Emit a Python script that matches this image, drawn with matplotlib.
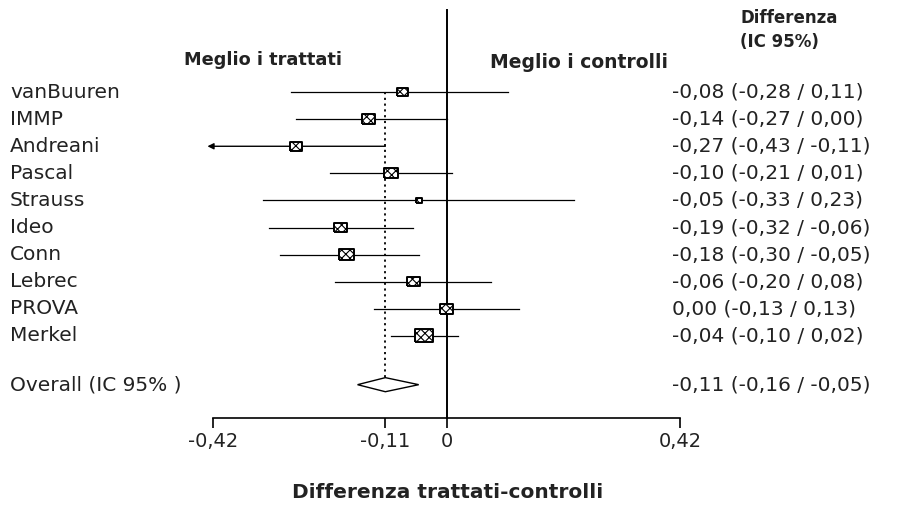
import matplotlib
matplotlib.use("Agg")
import matplotlib.pyplot as plt
import matplotlib.transforms as mtransforms

studies = ["vanBuuren", "IMMP", "Andreani", "Pascal", "Strauss", "Ideo",
           "Conn", "Lebrec", "PROVA", "Merkel"]
effect = [-0.08, -0.14, -0.27, -0.10, -0.05, -0.19, -0.18, -0.06, 0.00, -0.04]
lower = [-0.28, -0.27, -0.43, -0.21, -0.33, -0.32, -0.30, -0.20, -0.13, -0.10]
upper = [0.11, 0.00, -0.11, 0.01, 0.23, -0.06, -0.05, 0.08, 0.13, 0.02]
weights = [11, 13, 12, 14, 6, 13, 15, 13, 14, 18]  # relative box widths (visual)
overall_label = "Overall (IC 95% )"
overall = -0.11
overall_lo = -0.16
overall_hi = -0.05
xticks = [-0.42, -0.11, 0.0, 0.42]
xticklabels = ["-0,42", "-0,11", "0", "0,42"]
xlim = (-0.42, 0.42)


def fmt(v):
    return f"{v:.2f}".replace(".", ",")


plt.rcParams["font.family"] = ["DejaVu Sans"]
plt.rcParams["hatch.linewidth"] = 0.8

fig = plt.figure(figsize=(9.04, 5.18), dpi=100)
W, H = 904, 518
ax = fig.add_axes([213 / W, (518 - 418) / H, 467 / W, (418 - 10) / H])
ax.set_xlim(*xlim)
n = len(studies)
ax.set_ylim(12.03, -3.03)
overall_row = 10.8

for s in ["top", "right", "left"]:
    ax.spines[s].set_visible(False)
ax.spines["bottom"].set_linewidth(1.2)
ax.set_yticks([])
ax.set_xticks(xticks)
ax.set_xticklabels(xticklabels, fontsize=14, color="#222222")
ax.tick_params(axis="x", direction="out", length=7, width=1.2, pad=3)

# vertical reference lines
ax.plot([0, 0], [-3.03, 12.03], color="black", lw=1.4, clip_on=False)
ax.plot([overall, overall], [0, overall_row - 0.25], color="black", lw=1.3,
        ls=(0, (1.2, 2.0)))

rows = list(range(n))
for i in rows:
    lo, hi = lower[i], upper[i]
    if lo < xlim[0]:
        ax.annotate("", xy=(xlim[0] - 0.01, i), xytext=(hi, i),
                    arrowprops=dict(arrowstyle="-|>", color="black", lw=1.0,
                                    mutation_scale=9, shrinkA=0, shrinkB=0),
                    annotation_clip=False)
    else:
        ax.plot([lo, hi], [i, i], color="black", lw=0.9)

box = [(-1, -0.72), (1, -0.72), (1, 0.72), (-1, 0.72), (-1, -0.72)]
ax.scatter(effect, rows, s=[(w / 1.389) ** 2 for w in weights], marker=box,
           facecolor="white", edgecolor="black", linewidths=1.4,
           hatch="xxxx", zorder=5)

# overall diamond
ax.fill([overall_lo, overall, overall_hi, overall, overall_lo],
        [overall_row, overall_row - 0.26, overall_row, overall_row + 0.26, overall_row],
        facecolor="white", edgecolor="black", lw=1.0, zorder=5)

# labels
trans_left = mtransforms.blended_transform_factory(fig.transFigure, ax.transData)
fs = 14.5
tc = "#222222"
for i in rows:
    ax.text(10 / W, i, studies[i], transform=trans_left, ha="left", va="center",
            fontsize=fs, color=tc)
    ax.text(672 / W, i, f"{fmt(effect[i])} ({fmt(lower[i])} / {fmt(upper[i])})",
            transform=trans_left, ha="left", va="center", fontsize=fs, color=tc)
ax.text(10 / W, overall_row, overall_label, transform=trans_left, ha="left",
        va="center", fontsize=fs, color=tc)
ax.text(672 / W, overall_row,
        f"{fmt(overall)} ({fmt(overall_lo)} / {fmt(overall_hi)})",
        transform=trans_left, ha="left", va="center", fontsize=fs, color=tc)

# headers
fig.text(740 / W, 1 - 18 / H, "Differenza", ha="left", va="center",
         fontsize=12, fontweight="bold", color=tc)
fig.text(740 / W, 1 - 42 / H, "(IC 95%)", ha="left", va="center",
         fontsize=12, fontweight="bold", color=tc)
fig.text(263 / W, 1 - 60 / H, "Meglio i trattati", ha="center", va="center",
         fontsize=12.8, fontweight="bold", color=tc)
fig.text(579 / W, 1 - 63 / H, "Meglio i controlli", ha="center", va="center",
         fontsize=13.5, fontweight="bold", color=tc)
fig.text(448 / W, 1 - 492 / H, "Differenza trattati-controlli", ha="center",
         va="center", fontsize=14.5, fontweight="bold", color=tc)

fig.savefig("out.png", dpi=100)
